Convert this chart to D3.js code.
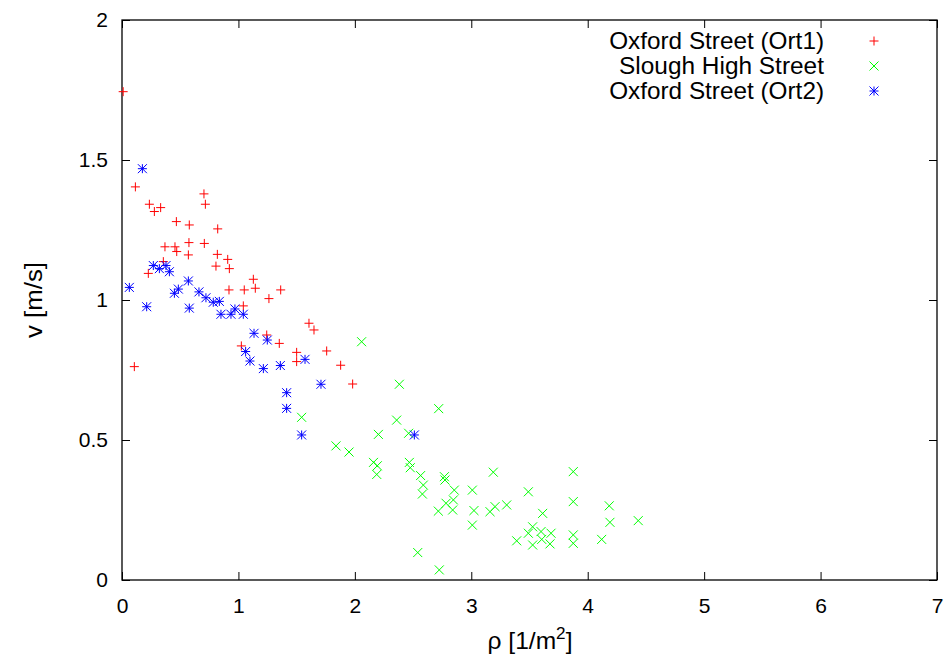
<!DOCTYPE html>
<html><head><meta charset="utf-8">
<script src="https://cdn.jsdelivr.net/npm/d3@7"></script>
<style>body{margin:0;background:#fff;} text{font-family:"Liberation Sans",Arial,sans-serif;}</style>
</head><body><svg id="c" width="947" height="661"></svg>
<script>
const seriesNames = ["Oxford Street (Ort1)", "Slough High Street", "Oxford Street (Ort2)"];
const ort1 = [[0.01,1.744],[0.115,1.404],[0.235,1.342],[0.278,1.316],[0.332,1.33],[0.704,1.379],[0.716,1.342],[0.467,1.28],[0.578,1.268],[0.822,1.254],[0.369,1.19],[0.455,1.19],[0.47,1.173],[0.575,1.205],[0.707,1.202],[0.57,1.161],[0.819,1.163],[0.908,1.145],[0.807,1.121],[0.922,1.112],[0.355,1.137],[0.226,1.095],[0.919,1.036],[1.05,1.036],[1.145,1.042],[1.128,1.074],[1.363,1.036],[1.262,1.005],[1.042,0.979],[1.243,0.875],[1.351,0.845],[1.025,0.836],[1.5,0.813],[1.5,0.78],[0.106,0.762],[1.606,0.917],[1.649,0.893],[1.758,0.818],[1.878,0.767],[1.981,0.7]];
const slough = [[2.058,0.851],[1.543,0.581],[2.382,0.699],[2.72,0.612],[2.359,0.571],[2.202,0.52],[2.462,0.524],[1.838,0.479],[1.95,0.457],[2.16,0.42],[2.193,0.408],[2.188,0.377],[2.468,0.42],[2.476,0.401],[2.565,0.373],[2.588,0.339],[2.58,0.307],[2.769,0.369],[2.774,0.357],[2.854,0.321],[3.009,0.321],[3.189,0.385],[3.49,0.315],[3.876,0.387],[2.717,0.246],[2.783,0.274],[2.846,0.286],[2.84,0.25],[3.023,0.248],[3.009,0.196],[3.161,0.244],[3.204,0.262],[3.304,0.268],[3.613,0.238],[3.876,0.28],[3.39,0.14],[3.49,0.167],[3.527,0.19],[3.527,0.125],[3.599,0.173],[3.605,0.145],[3.685,0.167],[3.676,0.129],[3.876,0.161],[3.876,0.131],[2.54,0.098],[2.725,0.036],[4.185,0.265],[4.191,0.206],[4.434,0.212],[4.12,0.145]];
const ort2 = [[0.175,1.469],[0.269,1.123],[0.321,1.112],[0.378,1.123],[0.407,1.101],[0.063,1.045],[0.212,0.976],[0.45,1.024],[0.484,1.039],[0.57,1.068],[0.578,0.971],[0.661,1.029],[0.721,1.008],[0.784,0.992],[0.836,0.995],[0.85,0.949],[0.936,0.949],[0.97,0.968],[1.042,0.949],[1.134,0.881],[1.248,0.857],[1.062,0.816],[1.099,0.782],[1.214,0.755],[1.36,0.766],[1.414,0.669],[1.414,0.613],[1.572,0.788],[1.709,0.699],[1.543,0.518],[2.511,0.518]];
const xTicks = [0,1,2,3,4,5,6,7];
const yTicks = [0,0.5,1,1.5,2];
const yTickLabels = ["0","0.5","1","1.5","2"];
const colors = ["#ff0000","#00ff00","#0000ff"];
const shapes = ["plus","cross","star"];

const L=122,R=937,T=20,B=580, FS=21, LFS=23;
const svg = d3.select("#c");
const x = d3.scaleLinear().domain([0,7]).range([L,R]);
const y = d3.scaleLinear().domain([0,2]).range([B,T]);

function markPath(s, r){
  const p = "M"+(-r)+",0H"+r+"M0,"+(-r)+"V"+r;
  const c = "M"+(-r)+","+(-r)+"L"+r+","+r+"M"+(-r)+","+r+"L"+r+","+(-r);
  if(s==="plus") return p;
  if(s==="cross") return c;
  return p+c;
}
// horizontally stretch a text (in its own frame) to a target width, anchored at ax
function stretch(g, ax, target){
  const t = g.select("text");
  const w = t.node().getComputedTextLength();
  const k = target / w;
  t.attr("transform", `translate(${ax},0) scale(${k},1) translate(${-ax},0)`);
}

// axes (ticks inward)
const gx = svg.append("g").attr("transform",`translate(0,${B})`)
  .call(d3.axisBottom(x).tickValues(xTicks).tickFormat(d3.format("d")).tickSizeInner(-8).tickSizeOuter(0).tickPadding(18));
const gxt = svg.append("g").attr("transform",`translate(0,${T})`)
  .call(d3.axisTop(x).tickValues(xTicks).tickFormat("").tickSizeInner(-8).tickSizeOuter(0));
const gy = svg.append("g").attr("transform",`translate(${L},0)`)
  .call(d3.axisLeft(y).tickValues(yTicks).tickFormat((d,i)=>yTickLabels[i]).tickSizeInner(-8).tickSizeOuter(0).tickPadding(14));
const gyr = svg.append("g").attr("transform",`translate(${R},0)`)
  .call(d3.axisRight(y).tickValues(yTicks).tickFormat("").tickSizeInner(-8).tickSizeOuter(0));
[gx,gxt,gy,gyr].forEach(g=>{
  g.select(".domain").remove();
  g.selectAll("line").attr("stroke","#000").attr("stroke-width",1);
  g.selectAll("text").attr("font-family","Liberation Sans, Arial, sans-serif").attr("font-size",FS).attr("fill","#000");
});
svg.append("rect").attr("x",L).attr("y",T).attr("width",R-L).attr("height",B-T)
  .attr("fill","none").attr("stroke","#000").attr("stroke-width",1.3);

// axis labels
const gxl = svg.append("g");
const xl = gxl.append("text").attr("x",530).attr("y",649).attr("text-anchor","middle").attr("font-size",LFS);
xl.append("tspan").text("ρ [1/m");
xl.append("tspan").attr("dy",-10).attr("font-size",16).text("2");
xl.append("tspan").attr("dy",10).text("]");
stretch(gxl, 530, 85);

const gyl = svg.append("g").attr("transform","translate(42,300) rotate(-90)");
gyl.append("text").attr("x",0).attr("y",0).attr("text-anchor","middle").attr("font-size",LFS).text("v [m/s]");
stretch(gyl, 0, 76);

// data
const all = [ort1, slough, ort2];
all.forEach((data,i)=>{
  svg.append("g").selectAll("path").data(data).join("path")
    .attr("transform",d=>`translate(${x(d[0])},${y(d[1])})`)
    .attr("d",markPath(shapes[i],4.5))
    .attr("stroke",colors[i]).attr("stroke-width",1).attr("fill","none");
});

// legend
const legY = [41,66,91];
const legW = [215,205,215];
seriesNames.forEach((n,i)=>{
  const g = svg.append("g");
  g.append("text").attr("x",824).attr("y",legY[i]).attr("dy","0.35em").attr("text-anchor","end").attr("font-size",LFS).text(n);
  stretch(g, 824, legW[i]);
  svg.append("path").attr("transform",`translate(874,${legY[i]})`).attr("d",markPath(shapes[i],4.5))
    .attr("stroke",colors[i]).attr("stroke-width",1).attr("fill","none");
});
</script></body></html>
